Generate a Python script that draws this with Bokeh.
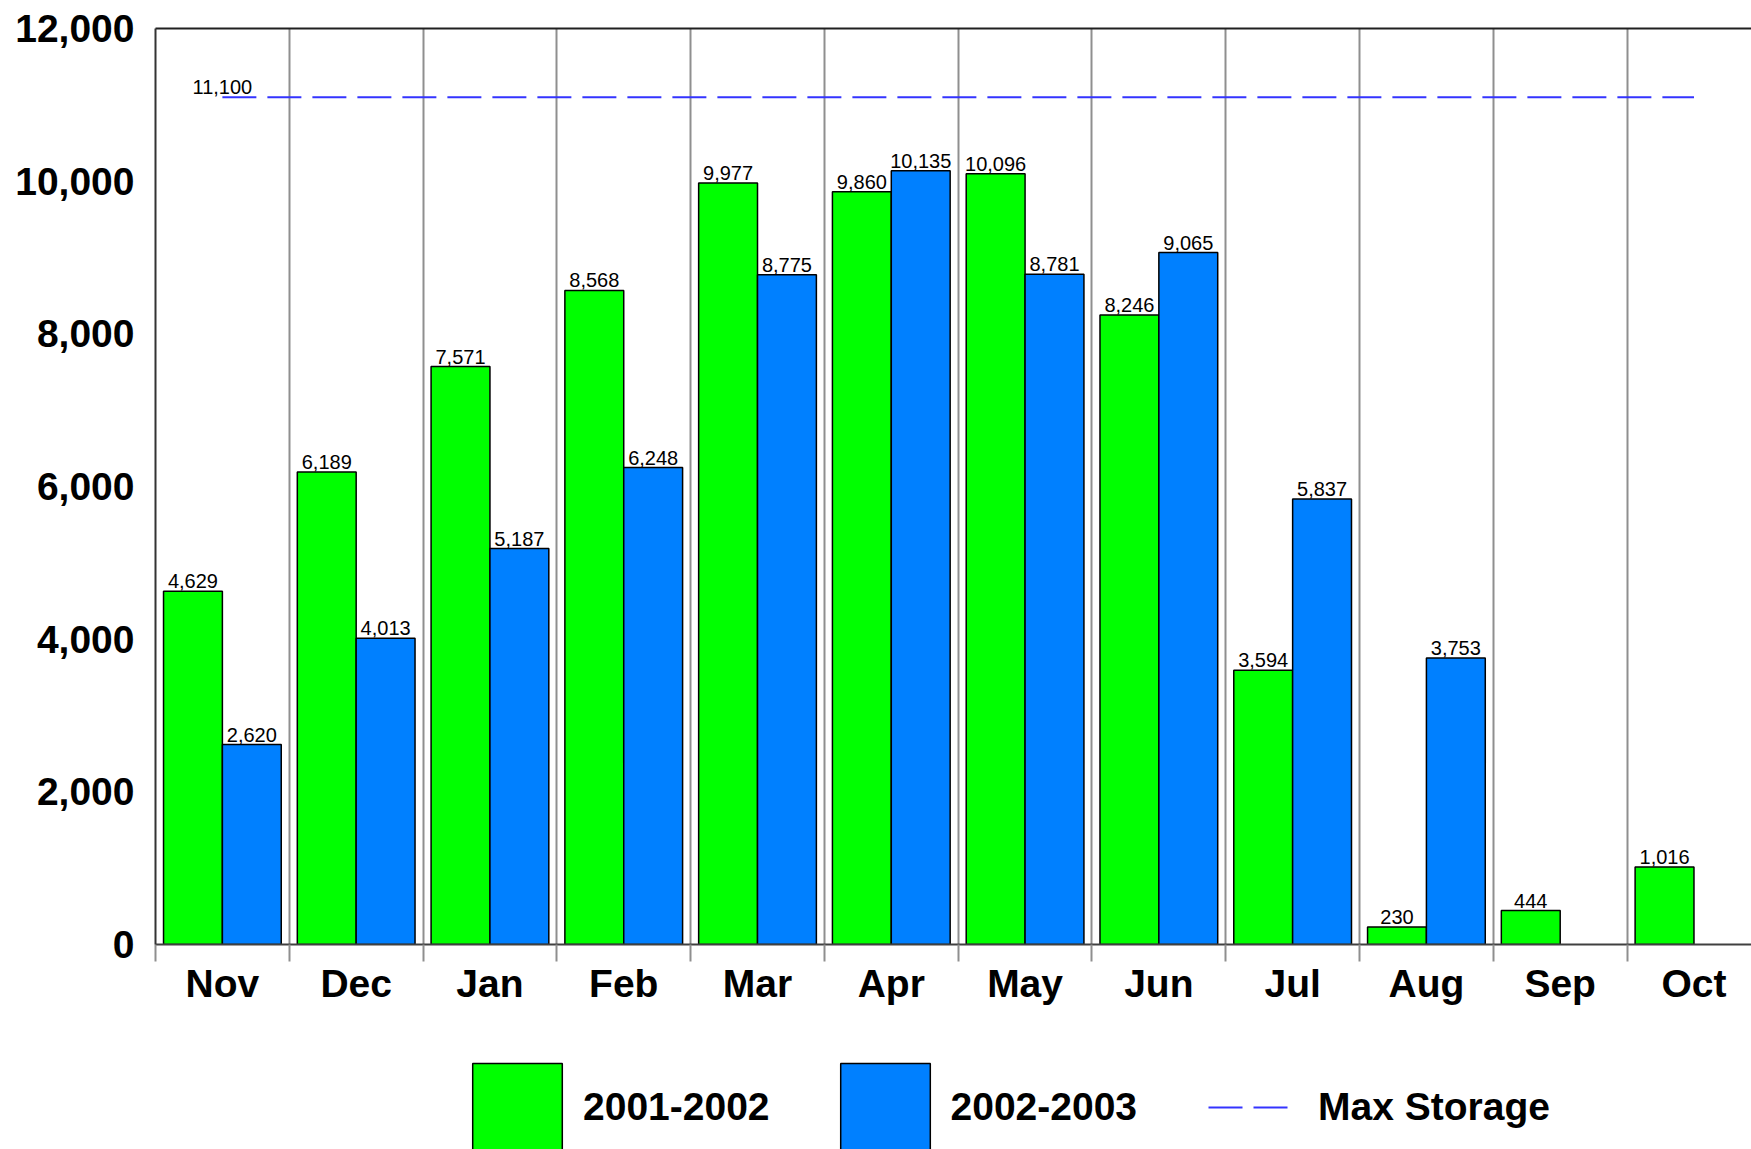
import numpy as np
from bokeh.plotting import figure
from bokeh.layouts import column
from bokeh.models import (ColumnDataSource, Range1d, FixedTicker, NumeralTickFormatter,
                          LinearAxis, Legend, LegendItem)
from bokeh.transform import dodge
from bokeh.core.properties import value
from bokeh.embed import file_html
from bokeh.resources import INLINE

# ---- data ----
months = ["Nov", "Dec", "Jan", "Feb", "Mar", "Apr", "May", "Jun", "Jul", "Aug", "Sep", "Oct"]
storage_2001_2002 = [4629, 6189, 7571, 8568, 9977, 9860, 10096, 8246, 3594, 230, 444, 1016]
storage_2002_2003 = [2620, 4013, 5187, 6248, 8775, 10135, 8781, 9065, 5837, 3753, None, None]
max_storage = 11100
y_ticks = [0, 2000, 4000, 6000, 8000, 10000, 12000]
series_names = ["2001-2002", "2002-2003", "Max Storage"]

# ---- style ----
FONT = "Liberation Sans"
GREEN = "#00ff00"
BLUE = "#0080ff"
DASH_BLUE = "#3434ff"
GRID = "#8f8f8f"

centers = [i + 0.5 for i in range(len(months))]
bounds = list(range(len(months) + 1))

src_a = ColumnDataSource(dict(
    x=centers, y=storage_2001_2002,
    label=[f"{v:,}" for v in storage_2001_2002]))
b_idx = [i for i, v in enumerate(storage_2002_2003) if v is not None]
src_b = ColumnDataSource(dict(
    x=[centers[i] for i in b_idx],
    y=[storage_2002_2003[i] for i in b_idx],
    label=[f"{storage_2002_2003[i]:,}" for i in b_idx]))
src_max = ColumnDataSource(dict(x=[centers[0], centers[-1]], y=[max_storage, max_storage]))
src_max_lbl = ColumnDataSource(dict(x=[centers[0]], y=[max_storage], label=[f"{max_storage:,}"]))

bar_a_kw = dict(fill_color=GREEN, line_color="black", line_width=1.5)
bar_b_kw = dict(fill_color=BLUE, line_color="black", line_width=1.5)

p = figure(width=1751, height=1040,
           x_range=Range1d(0, 11.93), y_range=Range1d(0, 12000),
           output_backend="svg", toolbar_location=None,
           min_border_left=155, min_border_right=0, min_border_top=28, min_border_bottom=96)
p.outline_line_color = None
p.background_fill_color = "white"
p.border_fill_color = "white"

# x axis
xa = p.xaxis[0]
xa.ticker = FixedTicker(ticks=centers, minor_ticks=bounds)
xa.major_label_overrides = {c: m for c, m in zip(centers, months)}
xa.major_tick_out = 0
xa.major_tick_in = 0
xa.minor_tick_out = 17
xa.minor_tick_in = 0
xa.minor_tick_line_color = GRID
xa.minor_tick_line_width = 2
xa.axis_line_color = "#404040"
xa.axis_line_width = 2
xa.major_label_text_font = FONT
xa.major_label_text_font_size = "39px"
xa.major_label_text_font_style = "bold"
xa.major_label_text_color = "black"
xa.major_label_standoff = 0

# y axis
ya = p.yaxis[0]
ya.ticker = FixedTicker(ticks=y_ticks)
ya.formatter = NumeralTickFormatter(format="0,0")
ya.major_tick_out = 0
ya.major_tick_in = 0
ya.minor_tick_out = 0
ya.minor_tick_in = 0
ya.axis_line_color = "#333333"
ya.axis_line_width = 2
ya.major_label_text_font = FONT
ya.major_label_text_font_size = "39px"
ya.major_label_text_font_style = "bold"
ya.major_label_text_color = "black"
ya.major_label_standoff = 21

# top border
top = LinearAxis(ticker=FixedTicker(ticks=[]), axis_line_color="#202020", axis_line_width=2,
                 major_tick_out=0, major_tick_in=0, minor_tick_out=0, minor_tick_in=0,
                 major_label_text_font_size="0px")
p.add_layout(top, "above")

# grids
p.xgrid.ticker = FixedTicker(ticks=bounds[1:-1])
p.xgrid.grid_line_color = GRID
p.xgrid.grid_line_width = 2
p.ygrid.grid_line_color = None

# bars
p.vbar(x=dodge("x", -0.22), top="y", width=0.44, source=src_a, **bar_a_kw)
p.vbar(x=dodge("x", 0.22), top="y", width=0.44, source=src_b, **bar_b_kw)

lbl_kw = dict(text_align="center", text_baseline="bottom", y_offset=-3,
              text_font=value(FONT), text_font_size="20px", text_color="black")
p.text(x=dodge("x", -0.22), y="y", text="label", source=src_a, **lbl_kw)
p.text(x=dodge("x", 0.22), y="y", text="label", source=src_b, **lbl_kw)

# max storage
p.line("x", "y", source=src_max, line_color=DASH_BLUE, line_width=2, line_dash="34 11")
p.text(x="x", y="y", text="label", source=src_max_lbl, **lbl_kw)

# ---- legend strip below the chart ----
lp = figure(width=1751, height=109, x_range=Range1d(0, 11.93), y_range=Range1d(0, 12000),
            output_backend="svg", toolbar_location=None,
            x_axis_type=None, y_axis_type=None,
            min_border_left=0, min_border_right=0, min_border_top=0, min_border_bottom=0)
lp.outline_line_color = None
lp.xgrid.visible = False
lp.ygrid.visible = False
la = lp.vbar(x=dodge("x", -0.22), top="y", width=0.44, source=src_a, visible=False, **bar_a_kw)
lb = lp.vbar(x=dodge("x", 0.22), top="y", width=0.44, source=src_b, visible=False, **bar_b_kw)
lm = lp.line("x", "y", source=src_max, visible=False,
             line_color=DASH_BLUE, line_width=2, line_dash="0 12 34 11 34 21")

legend = Legend(items=[LegendItem(label=series_names[0], renderers=[la]),
                       LegendItem(label=series_names[1], renderers=[lb]),
                       LegendItem(label=series_names[2], renderers=[lm])],
                orientation="horizontal", location=(306, -13),
                glyph_width=112, glyph_height=110, label_standoff=10, spacing=59,
                padding=0, margin=0,
                label_text_font=FONT, label_text_font_size="39px",
                label_text_font_style="bold", label_text_color="black",
                border_line_color=None, background_fill_alpha=0)
lp.add_layout(legend, "center")

layout = column(p, lp, spacing=0)
open("out.html", "w").write(file_html(layout, INLINE))
